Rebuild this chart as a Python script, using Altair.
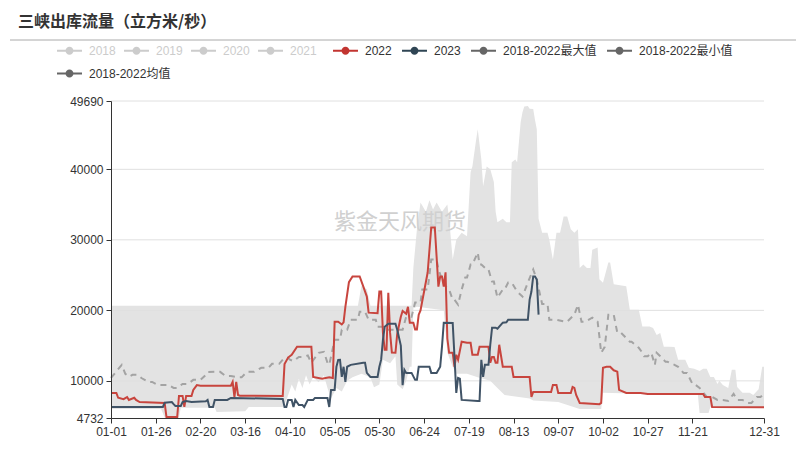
import altair as alt
import pandas as pd

TITLE = "三峡出库流量（立方米/秒）"
WATERMARK = "紫金天风期货"

tick_days = [0, 25, 50, 75, 100, 125, 150, 175, 200, 225, 250, 275, 300, 325, 365]
y_ticks = [4732, 10000, 20000, 30000, 40000, 49690]
grid_values = [10000, 20000, 30000, 40000, 49690]

legend_off = ["2018", "2019", "2020", "2021"]
legend_on = ["2022", "2023", "2018-2022最大值", "2018-2022最小值"]
legend_mean = ["2018-2022均值"]

# 2022 (day of year index, value)
days_2022 = [0, 3, 4, 7, 9, 10, 13, 14, 16, 30, 31, 37, 38, 40, 41, 42, 45, 46, 48, 50,
             67, 68, 69, 70, 71, 72, 96, 97, 99, 101, 104, 112, 113, 118, 122, 124, 125, 127,
             129, 130, 131, 133, 135, 139, 141, 143, 144, 149, 150, 151, 152, 153, 154, 155,
             156, 157, 159, 160, 162, 163, 165, 166, 167, 169, 170, 171, 172, 173, 177, 179,
             181, 182, 183, 184, 185, 186, 187, 188, 189, 191, 192, 193, 194, 196, 199, 201,
             202, 205, 206, 211, 212, 213, 214, 215, 216, 217, 219, 224, 225, 234, 235, 236,
             246, 247, 249, 250, 257, 258, 259, 260, 262, 273, 274, 275, 277, 279, 281, 283,
             284, 288, 296, 300, 331, 332, 335, 336, 365]
vals_2022 = [8289, 8289, 7600, 7400, 7700, 7300, 7600, 7300, 7000, 6866, 4874, 4874, 7860, 7860,
             6300, 7860, 7860, 8700, 9400, 9300,
             9300, 9850, 7700, 9850, 8000, 7900, 7862, 12400, 13300, 13700, 14833, 14833, 10565,
             10300, 10500, 10400, 18390, 18390,
             18000, 18300, 20500, 24000, 24800, 24800, 23400, 21950, 19670, 19600, 22660, 22660,
             16825, 14400, 14400, 22500,
             16800, 14000, 13980, 16680, 19100, 19900, 19500, 20500, 18250, 18250, 17300, 17300,
             19386, 20000, 25360, 31760,
             31760, 27600, 23370, 24800, 24800, 23370, 25400, 16000, 13980, 13980, 11990, 13700,
             13000, 15550, 15400, 15400,
             13700, 13700, 14830, 14830, 12560, 13400, 13400, 12560, 12560, 15120, 12000, 12000,
             10560, 10560, 7720, 8430,
             8430, 9420, 9420, 8290, 8290, 9140, 9000, 8000, 6870, 6700, 6870, 11850, 12000, 12000,
             11500, 11300,
             8720, 8290, 8290, 8150, 8150, 7720, 7720, 6300, 6250]

# 2023
days_2023 = [0, 29, 30, 34, 35, 36, 39, 40, 42, 45, 53, 54, 55, 57, 58, 65, 67, 96, 97, 98,
             99, 101, 102, 103, 105, 107, 108, 110, 113, 114, 121, 122, 123, 125, 126, 127, 128,
             129, 130, 131, 132, 134, 141, 142, 143, 145, 149, 150, 151, 152, 153, 155, 159, 160,
             162, 163, 164, 165, 168, 170, 171, 172, 178, 179, 182, 184, 185, 186, 191, 192, 193,
             194, 195, 196, 205, 206, 207, 208, 209, 211, 212, 213, 215, 216, 219, 221, 222, 233,
             234, 235, 236, 237, 238, 239]
vals_2023 = [6300, 6300, 6900, 7000, 6700, 6440, 6440, 7000, 7150, 7000, 7100, 7300, 6300, 6300,
             7300, 7300, 7577, 7440, 6300, 6300,
             7300, 7300, 6300, 7300, 6580, 6580, 6300, 7300, 7300, 7577, 7577, 6300, 8716, 8716,
             11990, 12980, 13000,
             10560, 12000, 9850, 12000, 12270, 12560, 12560, 11130, 10560, 10560, 12000, 13000,
             15830, 17680, 18100, 18100, 17250,
             15000, 9400, 11560, 11130, 11130, 10140, 10140, 12000, 12000, 11130, 11130, 12000,
             14830, 18250, 18200, 13400, 8290,
             10420, 10300, 7300, 7150, 7150, 12980, 10560, 12270, 12270, 15120, 17540, 17540,
             17400, 18250, 18300, 18675, 18670,
             21520, 22660, 24800, 24800, 24370, 19390]

# 2018-2022 mean
days_mean = [0, 6, 8, 10, 12, 15, 17, 21, 23, 26, 32, 35, 37, 40, 43, 46, 50, 53, 54, 58, 61, 64,
             67, 71, 73, 76, 80, 84, 88, 90, 94, 97, 99, 100, 102, 105, 107, 110, 112, 116, 119,
             121, 122, 125, 128, 129, 132, 134, 138, 139, 142, 144, 148, 149, 152, 154, 163, 165,
             168, 170, 173, 174, 177, 179, 182, 183, 185, 187, 189, 191, 192, 194, 196, 198, 199,
             201, 202, 205, 206, 207, 210, 211, 213, 214, 216, 219, 220, 222, 224, 227, 230, 233,
             236, 238, 240, 241, 244, 245, 249, 254, 255, 259, 261, 263, 265, 269, 272, 273, 274,
             276, 278, 281, 283, 285, 290, 291, 295, 297, 298, 300, 302, 304, 305, 307, 310, 311,
             315, 317, 320, 322, 325, 326, 329, 333, 336, 339, 342, 345, 348, 350, 353, 356, 358,
             361, 363, 365]
vals_mean = [10420, 12270, 11000, 10600, 10850, 10850, 10400, 9850, 9850, 9420, 9420, 9000, 9000,
             9570, 9570, 10140, 10140, 10850, 11270, 11275, 11275, 10700,
             10700, 10500, 10500, 11275, 11275, 11850, 11850, 12415, 12415, 13270, 13270, 13000,
             12800, 13400, 13400, 13600, 12560, 13980, 14120,
             12560, 12270, 15830, 15830, 17250, 17250, 18670, 18670, 19810, 19810, 18670, 18670,
             17680, 17680, 17250, 17250, 19100,
             19100, 21100, 21100, 22940, 22940, 27210, 27210, 25800, 24400, 23400, 22940, 21520,
             21520, 20800, 22940, 24650, 24650,
             26500, 26500, 28200, 26500, 26500, 25790, 25790, 24080, 24080, 21800, 22940, 22940,
             23940, 23940, 22660, 21950, 23940,
             25790, 24370, 22000, 20900, 20900, 18670, 18670, 18390, 18390, 19390, 20800, 18390,
             18390, 18960, 18390, 16260, 13980,
             14830, 19390, 19390, 16830, 16830, 15550, 15550, 14690, 14000, 13480, 13480, 13980,
             12270, 13980, 13500, 12700, 12700,
             12272, 12000, 11130, 11130, 9570, 9570, 9000, 7720, 7720, 7300, 7300, 7160, 8150,
             7300, 7300, 6870, 6870,
             7720, 7720, 8150]

# 2018-2022 max (upper edge of the grey band)
days_max = [0, 138, 140, 143, 145, 168, 169, 171, 173, 176, 178, 180, 182, 185, 188, 189, 191,
            193, 196, 199, 201, 202, 204, 205, 207, 208, 210, 212, 214, 215, 216, 219, 221, 223,
            224, 226, 227, 229, 230, 231, 233, 234, 236, 237, 238, 239, 241, 244, 245, 247, 249,
            251, 253, 255, 257, 259, 261, 262, 264, 266, 268, 269, 272, 273, 275, 278, 279, 281,
            288, 290, 295, 297, 301, 303, 305, 307, 309, 312, 315, 317, 321, 323, 326, 329, 331,
            333, 335, 337, 339, 340, 342, 345, 347, 349, 350, 353, 357, 359, 362, 364, 365]
vals_max = [20666, 20666, 23500, 23000, 20666, 20666, 26000, 31500, 35300, 34000, 35600, 34300,
            35300, 34000, 35000, 33000, 27200,
            30000, 31000, 30500, 39600, 40400, 44000, 45700, 41400, 37600, 40400, 40000, 38200,
            34000, 32500, 33000, 32500, 32500,
            41000, 41400, 41000, 46700, 48100, 48900, 48979, 48600, 48552, 47000, 45700, 33000,
            31000, 31000, 30000, 27200, 31000,
            31000, 33300, 33300, 31500, 31000, 31500, 26000, 26500, 26000, 26000, 28600, 28900,
            24400, 23900, 26800, 26800, 23700,
            23400, 20100, 20100, 17700, 17700, 17500, 16500, 16800, 14830, 14830, 14800, 12980,
            12980, 11850, 11700, 11400, 11700,
            11700, 10560, 10560, 9570, 10000, 9400, 9000, 11560, 11560, 9140, 8300, 8300, 8000,
            8800, 12000, 12000]

# 2018-2022 min (lower edge of the grey band)
days_min = [0, 28, 30, 38, 39, 58, 59, 75, 77, 96, 98, 101, 103, 105, 107, 109, 111, 113, 116,
            119, 121, 123, 126, 129, 132, 135, 140, 145, 147, 150, 152, 156, 159, 160, 163, 165,
            167, 168, 169, 171, 186, 188, 191, 193, 199, 205, 212, 216, 220, 234, 236, 250, 262,
            274, 275, 300, 328, 329, 334, 335, 365]
vals_min = [6000, 6000, 4800, 4800, 6200, 6200, 5600, 5700, 6300, 6300, 7200, 9500, 8500, 10300,
            9000, 10800, 9500, 10500, 9800,
            10800, 9000, 7500, 9000, 8500, 10000, 10500, 11000, 10500, 9100, 9500, 13000, 12500,
            13500, 9500, 8800, 10000,
            12000, 12000, 20300, 20500, 20000, 14000, 12000, 11000, 11000, 10500, 10000, 9000,
            8000, 7500, 7200, 7000, 6000,
            6000, 8300, 8150, 8150, 5450, 5450, 6300, 6250]

BASE = pd.Timestamp("2020-01-01")


def to_date(d):
    return (BASE + pd.Timedelta(days=d)).strftime("%Y-%m-%d")


def dt(d):
    t = BASE + pd.Timedelta(days=d)
    return alt.DateTime(year=t.year, month=t.month, date=t.day, utc=True)


def frame(days, vals):
    return pd.DataFrame({"date": [to_date(d) for d in days], "v": vals})


AXIS_FONT = "Liberation Sans"

x_enc = alt.X(
    "date:T", title=None,
    scale=alt.Scale(type="utc", domain=[dt(0), dt(365)]),
    axis=alt.Axis(values=[dt(d) for d in tick_days], format="%m-%d", grid=False,
                  domainColor="#333333", tickColor="#333333", tickSize=5,
                  labelColor="#333333", labelFontSize=12, labelFont=AXIS_FONT,
                  labelPadding=3, labelOverlap=False, labelFlush=False, zindex=1),
)
y_scale = alt.Scale(domain=[4732, 49690], nice=False, zero=False)
y_enc = alt.Y(
    "v:Q", title=None, scale=y_scale,
    axis=alt.Axis(values=y_ticks, format="d", grid=False, domainColor="#333333",
                  tickColor="#333333", tickSize=5, labelColor="#333333", labelFontSize=12,
                  labelFont=AXIS_FONT, labelPadding=3, zindex=1),
)

upper = alt.Chart(frame(days_max, vals_max)).mark_area(color="#e3e3e3", clip=True).encode(x=x_enc, y=y_enc)
lower = alt.Chart(frame(days_min, vals_min)).mark_area(color="#ffffff", clip=True).encode(x=x_enc, y=y_enc)

grid = alt.Chart(pd.DataFrame({"v": grid_values})).mark_rule(color="#e0e0e0", strokeWidth=1).encode(y=y_enc)

watermark = alt.Chart(alt.Data(values=[{"t": WATERMARK}])).mark_text(
    align="center", baseline="middle", fontSize=22, font="Noto Sans CJK SC", color="#d0d0d0"
).encode(x=alt.value(289), y=alt.value(121), text="t:N")

mean_line = alt.Chart(frame(days_mean, vals_mean)).mark_line(
    color="#a3a3a3", strokeWidth=2, strokeDash=[6, 5]
).encode(x=x_enc, y=y_enc)
line_2022 = alt.Chart(frame(days_2022, vals_2022)).mark_line(color="#c8453e", strokeWidth=2).encode(x=x_enc, y=y_enc)
line_2023 = alt.Chart(frame(days_2023, vals_2023)).mark_line(color="#405366", strokeWidth=2).encode(x=x_enc, y=y_enc)

PATH = ("M-2,-0.16 L-0.6,-0.16 L-0.6,0.16 L-2,0.16 Z "
        "M0.6,-0.16 L2,-0.16 L2,0.16 L0.6,0.16 Z "
        "M0.64,0 A0.64,0.64 0 1,1 -0.64,0 A0.64,0.64 0 1,1 0.64,0 Z")

LEG_FONT = "Liberation Sans, Noto Sans CJK SC"


def legend(x, y, label_color, col_pad=10, **kw):
    return alt.Legend(orient="none", legendX=x, legendY=y, direction="horizontal", title=None,
                      symbolType=PATH, symbolSize=156, symbolStrokeWidth=0, labelFontSize=12,
                      labelFont=LEG_FONT, labelColor=label_color, labelOffset=13,
                      columnPadding=col_pad, padding=0, rowPadding=0, symbolOpacity=1, **kw)


legend_src = pd.DataFrame({"name": legend_off + legend_on + legend_mean})

leg_off = alt.Chart(legend_src).transform_filter("false").mark_point(
    filled=True, opacity=1, color="#cccccc"
).encode(shape=alt.Shape("name:N", scale=alt.Scale(domain=legend_off, range=[PATH] * 4),
                         legend=legend(-48, -57, "#cccccc", col_pad=8, symbolFillColor="#cccccc")))

leg_on = alt.Chart(legend_src).transform_filter("false").mark_point(
    filled=True, opacity=1, shape=PATH
).encode(color=alt.Color("name:N", scale=alt.Scale(domain=legend_on,
                                                     range=["#c23531", "#2f4554", "#666666", "#666666"]),
                         legend=legend(228, -57, "#333333")))

leg_mean = alt.Chart(legend_src).transform_filter("false").mark_point(
    filled=True, opacity=1, shape=PATH
).encode(fill=alt.Fill("name:N", scale=alt.Scale(domain=legend_mean, range=["#666666"]),
                       legend=legend(-48, -34, "#333333")))

title_text = alt.Chart(alt.Data(values=[{"t": TITLE}])).mark_text(
    align="left", baseline="middle", fontSize=16, fontWeight="bold",
    font="Noto Sans CJK SC", color="#333333"
).encode(x=alt.value(-93), y=alt.value(-79), text="t:N")

title_rule = alt.Chart(alt.Data(values=[{"a": 1}])).mark_rule(color="#aaaaaa", strokeWidth=1).encode(
    x=alt.value(-101), x2=alt.value(685), y=alt.value(-61)
)

chart = alt.layer(
    upper, lower, grid, watermark, mean_line, line_2022, line_2023,
    leg_off, leg_on, leg_mean, title_text, title_rule
).properties(
    width=653, height=317,
    padding={"left": 111, "top": 101, "right": 42, "bottom": 42},
    autosize=alt.AutoSizeParams(type="none"),
).configure_view(stroke=None)

chart.save("out.html", embed_options={"renderer": "svg", "actions": False})
